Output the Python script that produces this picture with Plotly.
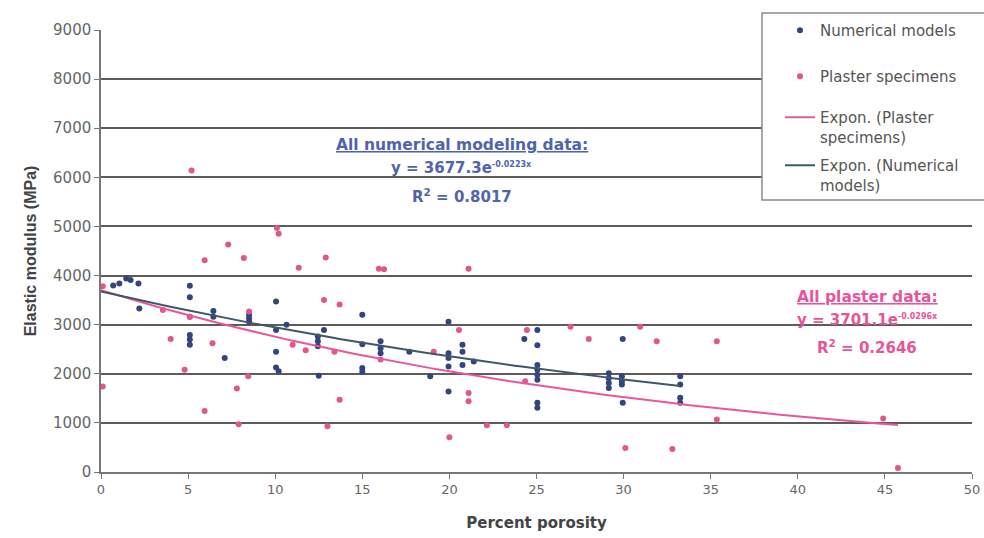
import numpy as np
import plotly.graph_objects as go

# Numerical model results: porosity (%) and elastic modulus (MPa)
num_x = [0.7, 1.05, 1.45, 1.7, 2.15, 2.2,
         5.1, 5.1, 5.1, 5.1, 5.1, 5.1,
         6.45, 6.45, 7.1,
         8.5, 8.5, 8.5,
         10.05, 10.05, 10.05, 10.05, 10.2, 10.65,
         12.8, 12.45, 12.45, 12.45, 12.5,
         15.0, 15.0, 15.0, 15.0,
         16.05, 16.05, 16.05, 17.7, 18.9,
         19.95, 19.95, 19.95, 19.95, 19.95,
         20.75, 20.75, 20.75, 21.4,
         24.3, 25.05, 25.05, 25.05, 25.05, 25.05, 25.05, 25.05, 25.05,
         29.15, 29.15, 29.15, 29.15, 29.9, 29.9, 29.9, 29.95, 29.95,
         33.25, 33.25, 33.25, 33.25]
num_y = [3800, 3840, 3940, 3910, 3840, 3330,
         3790, 3560, 3160, 2790, 2700, 2590,
         3280, 3160, 2320,
         3200, 3130, 3060,
         3470, 2890, 2450, 2130, 2050, 3000,
         2890, 2760, 2660, 2560, 1960,
         3200, 2600, 2120, 2040,
         2660, 2520, 2420, 2450, 1950,
         3060, 2420, 2320, 2150, 1640,
         2590, 2450, 2180, 2250,
         2710, 2890, 2580, 2180, 2080, 1980, 1880, 1410, 1310,
         2010, 1910, 1810, 1710, 1950, 1850, 1780, 2710, 1410,
         1950, 1780, 1510, 1410]

# Plaster specimen measurements
pl_x = [0.1, 0.1, 3.55, 4.0, 4.8, 5.2, 5.1,
        5.95, 5.95, 6.4, 7.3, 7.8, 7.9, 8.2, 8.45, 8.5,
        10.1, 10.2, 11.35, 11.0, 11.75, 12.8, 12.9, 13.4, 13.7, 13.7, 13.0,
        15.95, 16.25, 16.05, 19.1, 20.0, 20.55, 21.1, 21.1, 21.1,
        22.15, 23.3, 24.45, 24.35, 26.95, 28.0, 30.1, 30.95, 31.9, 32.8,
        35.35, 35.35, 44.9, 45.75]
pl_y = [3780, 1740, 3300, 2710, 2080, 6140, 3160,
        4310, 1240, 2620, 4630, 1700, 970, 4360, 1950, 3270,
        4970, 4850, 4160, 2590, 2480, 3500, 4370, 2450, 3410, 1470, 930,
        4140, 4130, 2290, 2450, 710, 2890, 4140, 1610, 1440,
        950, 950, 2890, 1850, 2960, 2710, 490, 2960, 2660, 470,
        2660, 1070, 1090, 80]

# Exponential trendline coefficients (y = A * exp(-k x))
NUM_A, NUM_K, NUM_R2 = 3677.3, 0.0223, 0.8017
PL_A, PL_K, PL_R2 = 3701.1, 0.0296, 0.2646

x_ticks = list(range(0, 51, 5))
y_ticks = list(range(0, 9001, 1000))

NAVY = "#34457e"
PINK = "#e4558a"
NUM_LINE = "#3e5866"
PINK_LINE = "#e8579a"
TXT_BLUE = "#5064ac"
TXT_PINK = "#e8549a"

num_fit_x = np.linspace(0, max(num_x), 120)
pl_fit_x = np.linspace(0, max(pl_x), 160)

fig = go.Figure()
fig.add_trace(go.Scatter(x=num_x, y=num_y, mode="markers", name="Numerical models",
                         legend="legend",
                         marker=dict(color=NAVY, size=6)))
fig.add_trace(go.Scatter(x=pl_x, y=pl_y, mode="markers", name="Plaster specimens",
                         legend="legend2",
                         marker=dict(color=PINK, size=6)))
fig.add_trace(go.Scatter(x=pl_fit_x, y=PL_A * np.exp(-PL_K * pl_fit_x), mode="lines",
                         name="Expon. (Plaster<br>specimens)", legend="legend3",
                         line=dict(color=PINK_LINE, width=2)))
fig.add_trace(go.Scatter(x=num_fit_x, y=NUM_A * np.exp(-NUM_K * num_fit_x), mode="lines",
                         name="Expon. (Numerical<br>models)", legend="legend4",
                         line=dict(color=NUM_LINE, width=2)))

L, R, T, B = 101, 12, 30, 66
W, H = 984, 538
pw, ph = W - L - R, H - T - B


def px_x(p):
    return (p - L) / pw


def px_y(p):
    return (H - B - p) / ph


# Legend frame
fig.add_shape(type="rect", xref="paper", yref="paper",
              x0=px_x(762), x1=1.05, y0=px_y(200), y1=px_y(13),
              fillcolor="white", line=dict(color="#8a8a8a", width=1.5), layer="above")


def note(text, x, y, color, size, bold=False):
    t = f"<b>{text}</b>" if bold else text
    fig.add_annotation(x=x, y=y, xref="x", yref="y", text=t, showarrow=False,
                       font=dict(family="DejaVu Sans", size=size, color=color),
                       xanchor="center", yanchor="middle")


note("<span style='text-decoration:underline'>All numerical modeling data:</span>",
     20.7, 6660, TXT_BLUE, 15.5, bold=True)
note(f"y = {NUM_A}e<sup><span style='font-size:8px'>-{NUM_K}x</span></sup>",
     20.7, 6190, TXT_BLUE, 15, bold=True)
note(f"R<sup>2</sup> = {NUM_R2}", 20.7, 5620, TXT_BLUE, 15, bold=True)

note("<span style='text-decoration:underline'>All plaster data:</span>",
     44.0, 3570, TXT_PINK, 15.5, bold=True)
note(f"y = {PL_A}e<sup><span style='font-size:8px'>-{PL_K}x</span></sup>",
     44.0, 3100, TXT_PINK, 15, bold=True)
note(f"R<sup>2</sup> = {PL_R2}", 44.0, 2550, TXT_PINK, 15, bold=True)


def legend_at(top_px):
    return dict(x=px_x(780), y=px_y(top_px), xanchor="left", yanchor="top",
                bgcolor="rgba(0,0,0,0)", borderwidth=0, valign="top",
                font=dict(family="DejaVu Sans", size=15, color="#555555"))


fig.update_layout(
    width=W, height=H,
    margin=dict(l=L, r=R, t=T, b=B, autoexpand=False),
    paper_bgcolor="white", plot_bgcolor="white",
    showlegend=True,
    legend=legend_at(14),
    legend2=legend_at(60),
    legend3=legend_at(101),
    legend4=legend_at(149),
    xaxis=dict(range=[0, 50], tickvals=x_ticks, ticks="outside", ticklen=5,
               tickcolor="#777", showline=True, linecolor="#777", linewidth=1.5,
               showgrid=False, zeroline=False,
               tickfont=dict(family="DejaVu Sans", size=13, color="#666"),
               title=dict(text="<b>Percent porosity</b>", standoff=21,
                          font=dict(family="DejaVu Sans", size=15, color="#444"))),
    yaxis=dict(range=[0, 9000], tickvals=y_ticks, ticks="outside", ticklen=5,
               tickcolor="#777", showline=True, linecolor="#777", linewidth=1.5,
               showgrid=True, gridcolor="#5c5c5c", gridwidth=1.6, zeroline=False,
               tickfont=dict(family="DejaVu Sans", size=15, color="#666"),
               title=dict(text="<b>Elastic modulus (MPa)</b>", standoff=12,
                          font=dict(family="Liberation Sans", size=16, color="#444"))),
)

fig.write_html("out.html")
